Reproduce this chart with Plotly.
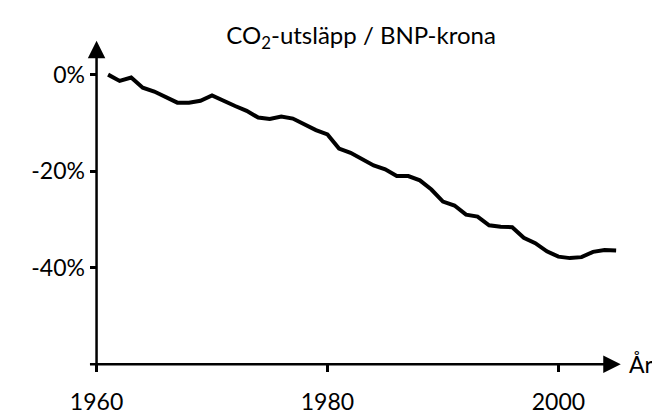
import plotly.graph_objects as go

years = list(range(1961, 2006))
change_pct = [0.0, -1.3, -0.6, -2.7, -3.5, -4.6, -5.8, -5.8, -5.4, -4.3,
              -5.5, -6.5, -7.5, -8.9, -9.2, -8.7, -9.1, -10.3, -11.5, -12.4,
              -15.3, -16.2, -17.6, -18.8, -19.6, -21.0, -21.0, -21.9, -23.8, -26.3,
              -27.1, -29.0, -29.4, -31.2, -31.5, -31.6, -33.8, -34.9, -36.6, -37.7,
              -38.0, -37.8, -36.7, -36.3, -36.4]
y_ticks = [0, -20, -40]
y_tick_labels = ["0%", "-20%", "-40%"]
x_ticks = [1960, 1980, 2000]
x_tick_labels = ["1960", "1980", "2000"]

FONT = "Lato, Open Sans, sans-serif"
XR = [1959, 2007.5]
YR = [-62, 8]

fig = go.Figure()
fig.add_trace(go.Scatter(x=years, y=change_pct, mode="lines",
                         line=dict(color="black", width=4), hoverinfo="skip",
                         showlegend=False))

# axis lines with arrows
fig.add_annotation(x=1960, y=7, ax=1960, ay=-61, xref="x", yref="y", axref="x", ayref="y",
                   showarrow=True, arrowhead=2, arrowsize=1.4, arrowwidth=2.5,
                   arrowcolor="black", text="")
fig.add_annotation(x=2005.4, y=-60, ax=1959.3, ay=-60, xref="x", yref="y", axref="x", ayref="y",
                   showarrow=True, arrowhead=2, arrowsize=1.4, arrowwidth=2.5,
                   arrowcolor="black", text="")
fig.add_annotation(x=2005.9, y=-60, xref="x", yref="y", text="År", showarrow=False,
                   xanchor="left", yanchor="middle", font=dict(family=FONT, size=23, color="black"))

fig.update_layout(
    width=660, height=419,
    margin=dict(l=77, r=23, t=28, b=44),
    paper_bgcolor="white", plot_bgcolor="white",
    title=dict(text="CO<sub>2</sub>-utsläpp / BNP-krona", x=0.535, xanchor="center",
               y=0.935, yanchor="middle", font=dict(family=FONT, size=24, color="black")),
    xaxis=dict(range=XR, showgrid=False, zeroline=False, showline=False,
               tickvals=x_ticks, ticktext=x_tick_labels, ticks="outside", ticklen=7,
               tickwidth=2.5, tickcolor="black", anchor="free",
               position=(-60 - YR[0]) / (YR[1] - YR[0]), ticklabelstandoff=10,
               tickfont=dict(family=FONT, size=23, color="black")),
    yaxis=dict(range=YR, showgrid=False, zeroline=False, showline=False,
               tickvals=y_ticks, ticktext=y_tick_labels, ticks="outside", ticklen=7,
               tickwidth=2.5, tickcolor="black", anchor="free",
               position=(1960 - XR[0]) / (XR[1] - XR[0]),
               tickfont=dict(family=FONT, size=23, color="black")),
)

fig.write_html("out.html")
